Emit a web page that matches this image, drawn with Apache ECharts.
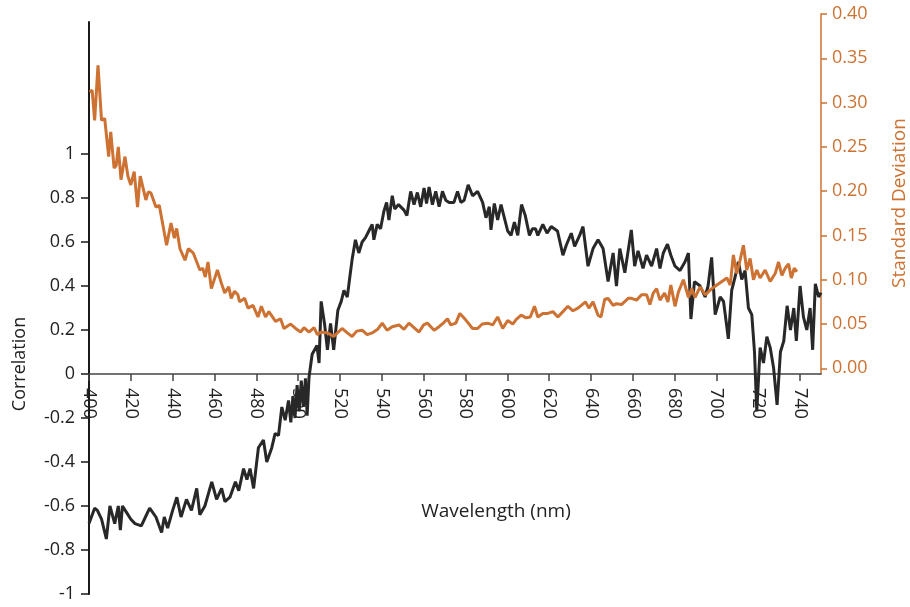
<!DOCTYPE html>
<html>
<head>
<meta charset="utf-8">
<script src="https://cdn.jsdelivr.net/npm/echarts@6/dist/echarts.min.js"></script>
<style>html,body{margin:0;padding:0;background:#fff}#c{width:910px;height:607px}</style>
</head>
<body>
<div id="c"></div>
<script>
// Wavelength ticks
const xTicks = [400,420,440,460,480,500,520,540,560,580,600,620,640,660,680,700,720,740];
const corrTicks = [-1,-0.8,-0.6,-0.4,-0.2,0,0.2,0.4,0.6,0.8,1];
const sdTicks = [0,0.05,0.1,0.15,0.2,0.25,0.3,0.35,0.4];

// Correlation series (wavelength, value)
const corrWl = [400,402.7,404,406,408.3,410,412.3,414,415,416,418,420,422,425,427,429,432,434.7,436,437.6,440,442,444,446.6,449,451.5,453,455.4,458.7,461,463.4,465,467.4,470,471.6,473.9,475.5,477,478.7,481,483.4,485,487.4,489,490.6,492.2,493.8,495.4,496.5,497.5,498.5,499.5,500.5,501.5,502.5,503.5,504.3,505.2,506.7,509,510,511,512.6,514,515.5,517,519,520.6,521.9,523.5,524.7,525.8,527.4,529,530.6,532.2,533.8,535.4,536.2,537.8,539.4,541,542.3,543.4,545,546.2,548,550.6,552,553.8,555.4,557,558.6,560.2,561.4,562.6,564.2,565.8,567.4,569,570.6,572.2,574.5,576.2,577.8,579.4,581.3,583.4,585.8,588.2,589.8,591.4,592.2,593.8,595.4,597,598.6,600.2,601.8,603.4,605,606.8,608.6,610.6,612,613.5,614.6,617,619,621,624,626.6,628.2,630.6,632.2,634.6,636.2,638.6,641,643.4,645.8,648.2,650.6,652.2,653.8,656.2,659.3,660.9,662.5,664.9,666.6,669,671.4,673,674.6,676.6,678.2,680.2,682.6,685,686.6,687.8,689.5,692.2,694.6,696,697.7,699.4,701.8,703.4,705.7,707.3,708.9,710.5,712.1,713.7,715.3,716.9,718.2,719.3,720.9,722.5,724.1,725.7,727.3,729,730.6,732.2,733.8,735.4,737,738.2,740,741.6,743.2,744.8,746,747.3,748.9,750];
const corrVal = [-0.68,-0.61,-0.62,-0.66,-0.75,-0.60,-0.68,-0.60,-0.71,-0.60,-0.63,-0.66,-0.68,-0.69,-0.65,-0.61,-0.65,-0.72,-0.65,-0.70,-0.62,-0.56,-0.65,-0.57,-0.62,-0.52,-0.64,-0.60,-0.49,-0.57,-0.52,-0.58,-0.56,-0.49,-0.53,-0.43,-0.48,-0.43,-0.52,-0.335,-0.30,-0.40,-0.335,-0.27,-0.28,-0.15,-0.21,-0.12,-0.22,-0.10,-0.20,-0.05,-0.17,-0.03,-0.15,-0.02,-0.19,-0.015,0.09,0.13,0.05,0.33,0.23,0.11,0.23,0.11,0.29,0.33,0.38,0.35,0.44,0.52,0.61,0.55,0.60,0.62,0.65,0.68,0.61,0.68,0.66,0.74,0.78,0.70,0.81,0.75,0.77,0.745,0.72,0.83,0.77,0.825,0.76,0.845,0.775,0.85,0.77,0.83,0.76,0.83,0.79,0.78,0.78,0.83,0.78,0.79,0.86,0.81,0.83,0.78,0.71,0.76,0.655,0.775,0.70,0.77,0.71,0.65,0.63,0.69,0.63,0.77,0.72,0.63,0.66,0.66,0.63,0.68,0.64,0.67,0.65,0.54,0.585,0.64,0.58,0.63,0.67,0.49,0.57,0.61,0.57,0.42,0.55,0.40,0.57,0.46,0.655,0.49,0.56,0.48,0.54,0.49,0.57,0.48,0.55,0.59,0.54,0.49,0.47,0.51,0.55,0.25,0.42,0.40,0.35,0.40,0.53,0.27,0.35,0.33,0.16,0.38,0.44,0.51,0.43,0.47,0.30,0.27,0.10,-0.17,0.12,0.05,0.17,0.12,0.03,-0.14,0.10,0.15,0.31,0.20,0.30,0.15,0.40,0.26,0.20,0.30,0.11,0.41,0.35,0.37];

// Standard deviation series (wavelength, value)
const sdWl = [400.3,401.5,402.7,404.3,406,407.5,408.3,409.4,410.4,412,413,414,415.3,417.2,418.6,420,421.6,423.2,424.5,426.4,427.2,428.3,429.6,432,433.6,437.1,439.2,440.8,441.9,443.5,445.9,447.5,449.9,453,454.4,455.6,456.9,458.5,461.4,463.3,464.9,466.8,468,469.6,471.2,472,474.4,476,478.4,480.8,482.4,484.4,486,489.2,491.6,493.2,496.4,498.8,501.2,502.8,505.2,507.6,509.2,511,514,517,521,523.5,525.8,528,530.6,533,535.4,538,540.2,542.5,545,548.2,550.6,553,555.4,557.8,560,561.8,565,567.4,569.8,571.4,573,575.4,577.3,580,583.4,585.8,588,590.6,593,595.4,597.8,600.2,602.6,604.2,606.6,609,611,613,614.6,617,619.4,621.8,624.2,626.6,629,631.4,633.8,635.4,637.4,639,641,643.4,644.8,646.6,648.2,650.6,652.2,654.6,657.8,659.4,661.8,664.2,666.6,668.2,669.8,671.4,673,675.2,676.8,678.2,680.2,681.8,684.2,686.6,688.2,689.8,692.2,694.6,697.8,700.2,702.6,705,706.6,708.1,709.7,711.3,712.9,714.5,716.1,717.7,719.3,720.9,723.3,725.7,728.1,729.7,731.3,732.9,734.5,735.8,737.2,738.5];
const sdVal = [0.312,0.314,0.280,0.342,0.280,0.282,0.284,0.239,0.267,0.226,0.229,0.250,0.213,0.239,0.217,0.207,0.222,0.182,0.217,0.198,0.190,0.199,0.198,0.182,0.184,0.139,0.164,0.147,0.158,0.135,0.122,0.135,0.130,0.111,0.113,0.103,0.120,0.090,0.111,0.096,0.085,0.092,0.079,0.087,0.083,0.075,0.079,0.068,0.071,0.058,0.070,0.058,0.064,0.053,0.056,0.045,0.050,0.045,0.041,0.046,0.041,0.046,0.038,0.041,0.040,0.036,0.045,0.040,0.036,0.042,0.043,0.038,0.040,0.044,0.051,0.043,0.047,0.049,0.044,0.051,0.046,0.041,0.049,0.051,0.043,0.047,0.052,0.056,0.049,0.051,0.062,0.055,0.045,0.045,0.050,0.051,0.049,0.058,0.045,0.054,0.050,0.055,0.060,0.057,0.058,0.070,0.058,0.062,0.062,0.064,0.058,0.064,0.070,0.065,0.068,0.071,0.075,0.068,0.075,0.060,0.058,0.078,0.079,0.071,0.073,0.072,0.079,0.079,0.077,0.083,0.083,0.072,0.085,0.090,0.077,0.085,0.075,0.094,0.070,0.086,0.100,0.080,0.090,0.080,0.092,0.083,0.090,0.094,0.098,0.102,0.094,0.128,0.107,0.122,0.139,0.111,0.124,0.100,0.111,0.102,0.111,0.098,0.107,0.120,0.105,0.113,0.118,0.102,0.113,0.109];

const ORANGE = '#cd7232';
const DARK = '#282828';
const FONT = '"Open Sans", "Noto Sans", sans-serif';

const chart = echarts.init(document.getElementById('c'), null, {renderer: 'canvas'});
chart.setOption({
  animation: false,
  backgroundColor: '#ffffff',
  grid: [
    {left: 89, right: 89, top: 22, bottom: 13, containLabel: false, outerBoundsMode: 'none'},
    {left: 89, right: 89, top: 14, bottom: 233, containLabel: false, outerBoundsMode: 'none'}
  ],
  xAxis: [
    {
      type: 'value', gridIndex: 0, min: 400, max: 750, show: false, splitLine: {show: false}
    },
    {
      type: 'value', gridIndex: 1, position: 'bottom', min: 400, max: 750, interval: 20,
      axisLine: {show: true, onZero: false, lineStyle: {color: '#444', width: 1.5}},
      axisTick: {show: true, length: 7, lineStyle: {color: '#444', width: 1.5}, customValues: xTicks},
      axisLabel: {show: true, rotate: -90, margin: 14, color: '#222', fontSize: 18, fontFamily: FONT, customValues: xTicks},
      splitLine: {show: false}
    }
  ],
  yAxis: [
    {
      type: 'value', gridIndex: 0, min: -1, max: 1.6, interval: 0.2,
      axisLine: {show: true, lineStyle: {color: '#1a1a1a', width: 2}},
      axisTick: {show: true, length: 8, lineStyle: {color: '#1a1a1a', width: 1.5}, customValues: corrTicks},
      axisLabel: {color: '#222', fontSize: 18, fontFamily: FONT, margin: 14, customValues: corrTicks,
        formatter: v => (Math.round(v * 10) / 10).toString()},
      splitLine: {show: false}
    },
    {
      type: 'value', gridIndex: 1, position: 'right', min: -0.0064, max: 0.4,
      axisLine: {show: true, lineStyle: {color: ORANGE, width: 1.5}},
      axisTick: {show: true, length: 6, lineStyle: {color: ORANGE, width: 1.5}, customValues: sdTicks},
      axisLabel: {color: ORANGE, fontSize: 18, fontFamily: FONT, margin: 11, customValues: sdTicks,
        formatter: v => v.toFixed(2)},
      splitLine: {show: false}
    }
  ],
  series: [
    {
      type: 'line', xAxisIndex: 0, yAxisIndex: 0, showSymbol: false, symbol: 'none',
      lineStyle: {color: DARK, width: 3}, z: 2,
      data: corrWl.map((w, i) => [w, corrVal[i]])
    },
    {
      type: 'line', xAxisIndex: 1, yAxisIndex: 1, showSymbol: false, symbol: 'none',
      lineStyle: {color: ORANGE, width: 3}, z: 3,
      data: sdWl.map((w, i) => [w, sdVal[i]])
    }
  ],
  graphic: [
    {type: 'text', x: 20, y: 364, rotation: Math.PI / 2,
      style: {text: 'Correlation', font: '18px ' + FONT, fill: '#222', textAlign: 'center', textVerticalAlign: 'middle'}},
    {type: 'text', x: 900, y: 203, rotation: Math.PI / 2,
      style: {text: 'Standard Deviation', font: '19px ' + FONT, fill: ORANGE, textAlign: 'center', textVerticalAlign: 'middle'}},
    {type: 'text', x: 496, y: 512,
      style: {text: 'Wavelength (nm)', font: '19px ' + FONT, fill: '#222', textAlign: 'center', textVerticalAlign: 'middle'}}
  ]
});
</script>
</body>
</html>
